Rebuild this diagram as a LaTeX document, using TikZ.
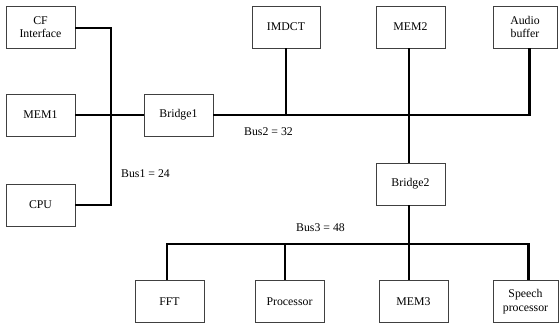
\documentclass[tikz,border=0pt]{standalone}
\usepackage{fontspec}
\setmainfont{Liberation Serif}
\begin{document}
\begin{tikzpicture}[x=1pt,y=-1pt,
  blk/.style={draw=black!75,line width=0.8pt,minimum width=69pt,minimum height=42pt,inner sep=0pt,align=center,font=\fontsize{11.8}{13.5}\selectfont},
  bus/.style={line width=2.6pt,black,line join=miter},
  lbl/.style={anchor=west,inner sep=0pt,font=\fontsize{11.8}{13.5}\selectfont}]
\useasboundingbox (0,0) rectangle (560,329);
% top-left column
\node[blk] (cf) at (40.5,27) {CF\\Interface};
\node[blk] (mem1) at (40.5,115) {MEM1};
\node[blk] (cpu) at (40.5,205) {CPU};
\node[blk] (br1) at (178.5,115) {Bridge1};
% top row
\node[blk,minimum width=68pt] (imdct) at (286,27) {IMDCT};
\node[blk] (mem2) at (410.5,27) {MEM2};
\node[blk,minimum width=64pt] (audio) at (525,27) {Audio\\buffer};
\node[blk] (br2) at (410.5,184) {Bridge2};
% bottom row
\node[blk] (fft) at (169.5,301.5) {FFT};
\node[blk] (proc) at (289.5,301.5) {Processor};
\node[blk] (mem3) at (413.5,301.5) {MEM3};
\node[blk,minimum width=65pt] (speech) at (525.5,301.5) {Speech\\processor};
% bus coordinates
\coordinate (b1top) at (111,28);
\coordinate (b1bot) at (111,205);
\coordinate (b2imdct) at (286,115);
\coordinate (b2mem2) at (409,115);
\coordinate (b2end) at (529.5,115);
\coordinate (b3start) at (167,244);
\coordinate (b3proc) at (285,244);
\coordinate (b3mem3) at (409,244);
\coordinate (b3end) at (528.5,244);
% Bus1
\draw[bus] (cf.east |- b1top) -- (b1top) -- (b1bot) -- (cpu.east |- b1bot);
\draw[bus] (mem1.east) -- (br1.west);
% Bus2
\draw[bus] (br1.east) -- (b2end) -- (b2end |- audio.south);
\draw[bus] (b2imdct) -- (b2imdct |- imdct.south);
\draw[bus] (b2mem2 |- mem2.south) -- (b2mem2 |- br2.north);
% Bus3
\draw[bus] (b3mem3 |- br2.south) -- (b3mem3 |- mem3.north);
\draw[bus] (b3start |- fft.north) -- (b3start) -- (b3end) -- (b3end |- speech.north);
\draw[bus] (b3proc) -- (b3proc |- proc.north);
% labels
\node[lbl] (l1) at (121,174) {Bus1 = 24};
\node[lbl] (l2) at (244,132) {Bus2 = 32};
\node[lbl] (l3) at (296,228) {Bus3 = 48};
\end{tikzpicture}
\end{document}
